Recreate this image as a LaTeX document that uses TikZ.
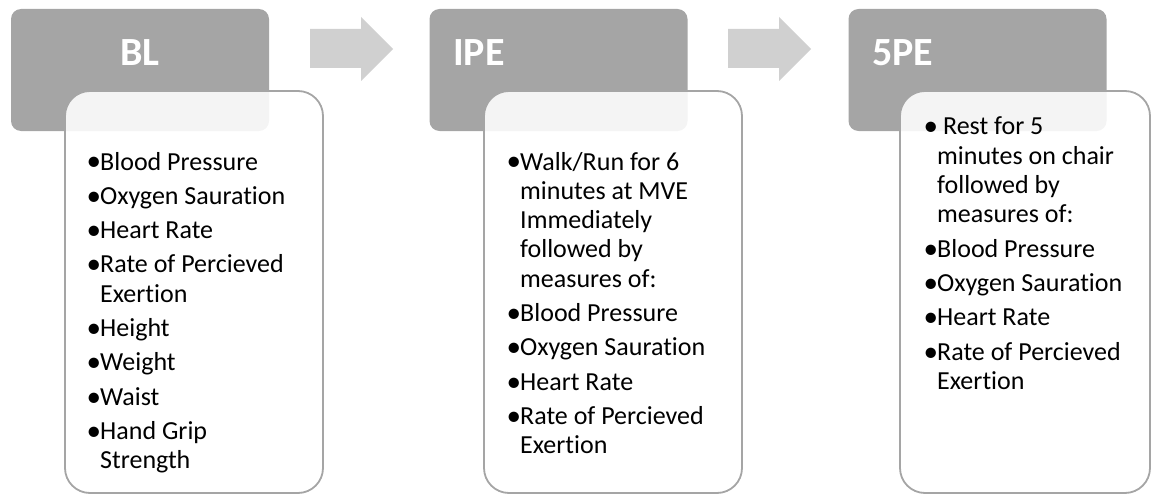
\documentclass[tikz,border=0pt]{standalone}
\usepackage{fontspec}
\setmainfont{Carlito}[Ligatures=NoCommon]
\usetikzlibrary{shapes,arrows}
\definecolor{hdgray}{HTML}{A5A5A5}
\definecolor{argray}{HTML}{D0D0D0}
\tikzstyle{headGR} = [rectangle, fill=hdgray, rounded corners=10pt, minimum width=258pt, minimum height=122pt, inner sep=0pt]
\tikzstyle{listWH} = [rectangle, draw=hdgray, line width=1.8pt, fill=white, fill opacity=0.88, rounded corners=25pt, minimum width=258pt, minimum height=402pt, inner sep=0pt]
\tikzstyle{headtxt} = [text=white, font=\fontsize{40}{48}\selectfont\bfseries, inner sep=0pt]
\tikzstyle{listtxt} = [inner sep=0pt, anchor=base west, text=black]
\tikzstyle{blockarrow} = [fill=argray]
\newcommand{\itm}[1]{\par\noindent\hangindent=12pt\hangafter=1\makebox[12pt][l]{\hspace*{-1.5pt}\raisebox{-1pt}{\scalebox{1.12}{\textbullet}}}#1}
\newcommand{\lista}[1]{\parbox[t]{230pt}{\fontsize{26}{29.3}\selectfont\raggedright\setlength{\parskip}{5pt}#1}}

\begin{document}
\begin{tikzpicture}[x=1pt, y=-1pt]
  \useasboundingbox (0,0) rectangle (1152,495);

    % headers
    \node [headGR] (bl_head) at (140,70) {};
    \node [headGR] (ipe_head) at (558.5,70) {};
    \node [headGR] (fpe_head) at (977.5,70) {};

    \node [headtxt, anchor=base] (bl_lbl) at (140,66) {BL};
    \node [headtxt, anchor=base west] (ipe_lbl) at (453,66) {IPE};
    \node [headtxt, anchor=base west] (fpe_lbl) at (872,66) {5PE};

    % block arrows
    \fill [blockarrow] (310,29) -- (361,29) -- (361,17) -- (393,49) -- (361,81) -- (361,68) -- (310,68) -- cycle;
    \fill [blockarrow] (728,29) -- (779,29) -- (779,17) -- (811,49) -- (779,81) -- (779,68) -- (728,68) -- cycle;

    % lists
    \node [listWH] (bl_box) at (194,292) {};
    \node [listWH] (ipe_box) at (613,292) {};
    \node [listWH, minimum width=250pt] (fpe_box) at (1025,292) {};

    \node [listtxt] (bl_list) at (88,170) {\lista{%
      \itm{Blood Pressure}
      \itm{Oxygen Sauration}
      \itm{Heart Rate}
      \itm{Rate of Percieved\newline Exertion}
      \itm{Height}
      \itm{Weight}
      \itm{Waist}
      \itm{Hand Grip\newline Strength}}};
    \node [listtxt] (ipe_list) at (508,170) {\lista{%
      \itm{Walk/Run for 6\newline minutes at MVE\newline Immediately\newline followed by\newline measures of:}
      \itm{Blood Pressure}
      \itm{Oxygen Sauration}
      \itm{Heart Rate}
      \itm{Rate of Percieved\newline Exertion}}};
    \node [listtxt] (fpe_list) at (925,135) {\lista{%
      \itm{\ Rest for 5\newline minutes on chair\newline followed by\newline measures of:}
      \itm{Blood Pressure}
      \itm{Oxygen Sauration}
      \itm{Heart Rate}
      \itm{Rate of Percieved\newline Exertion}}};

\end{tikzpicture}
\end{document}
